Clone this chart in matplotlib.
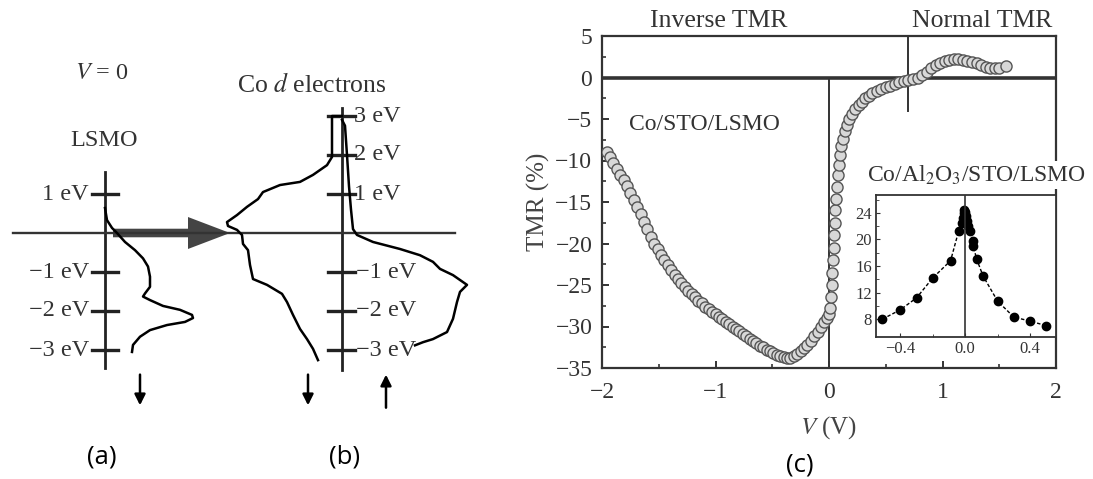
import numpy as np
import matplotlib
matplotlib.use('Agg')
import matplotlib.pyplot as plt
from matplotlib.patches import FancyArrow

plt.rcParams['font.family'] = ['Liberation Serif', 'DejaVu Serif']
plt.rcParams['mathtext.fontset'] = 'stix'

# ---- (a) LSMO density of states: (offset from axis, energy in eV)
lsmo_dos = [0, 2, 7, 12, 20, 30, 38, 43, 45, 45, 40, 38, 45, 58, 75, 87, 88, 80, 62, 45, 35, 28, 27]
lsmo_e = [0.64, 0.33, 0.13, 0.0, -0.23, -0.44, -0.65, -0.86, -1.12, -1.38, -1.55, -1.63, -1.72,
          -1.87, -1.97, -2.10, -2.18, -2.28, -2.36, -2.49, -2.66, -2.87, -3.05]

# ---- (b) Co d electrons, spin down (left of axis) and spin up (right of axis)
co_dn_dos = [0, 10, 10, 15, 29, 42, 62, 79, 84, 95, 105, 115, 114, 105, 100, 99, 94, 92, 89,
             75, 60, 55, 49, 42, 35, 29, 24]
co_dn_e = [3.0, 3.0, 1.95, 1.74, 1.49, 1.31, 1.23, 1.05, 0.87, 0.67, 0.46, 0.28, 0.18, 0.08,
           -0.05, -0.28, -0.44, -0.82, -1.18, -1.33, -1.56, -1.77, -2.10, -2.46, -2.72, -2.97, -3.26]
co_up_dos = [0, 3, 5, 7, 9, 11, 15, 31, 58, 78, 91, 98, 111, 125, 118, 115, 111, 105, 91, 81, 73]
co_up_e = [2.9, 2.75, 2.0, 1.2, 0.6, 0.1, -0.05, -0.23, -0.41, -0.57, -0.74, -0.92, -1.08,
           -1.33, -1.51, -1.77, -2.20, -2.54, -2.72, -2.80, -2.88]

# ---- (c) TMR vs bias, Co/STO/LSMO
v_main = [-1.96, -1.93, -1.90, -1.87, -1.84, -1.81, -1.78, -1.75, -1.72, -1.69, -1.66, -1.63,
          -1.60, -1.57, -1.54, -1.51, -1.48, -1.45, -1.42, -1.39, -1.36, -1.33, -1.30, -1.27,
          -1.24, -1.21, -1.18, -1.15, -1.12, -1.09, -1.06, -1.03, -1.00, -0.97, -0.94, -0.91,
          -0.88, -0.85, -0.82, -0.79, -0.76, -0.73, -0.70, -0.67, -0.64, -0.61, -0.58, -0.55,
          -0.52, -0.49, -0.46, -0.43, -0.40, -0.37, -0.34, -0.31, -0.28, -0.25, -0.22, -0.19,
          -0.16, -0.13, -0.10, -0.07, -0.04, -0.02, 0.0,
          0.01, 0.02, 0.025, 0.03, 0.035, 0.04, 0.045, 0.05, 0.055, 0.06, 0.07, 0.08, 0.09,
          0.10, 0.11, 0.12, 0.14, 0.16, 0.18, 0.20, 0.23, 0.26, 0.29, 0.32, 0.35, 0.38, 0.42,
          0.46, 0.50, 0.54, 0.58, 0.62, 0.66, 0.70, 0.74, 0.78, 0.82, 0.86, 0.90, 0.94, 0.98,
          1.02, 1.06, 1.10, 1.14, 1.18, 1.22, 1.26, 1.30, 1.34, 1.38, 1.42, 1.46, 1.50, 1.56]
tmr_main = [-9.0, -9.6, -10.3, -11.0, -11.7, -12.4, -13.1, -13.9, -14.7, -15.6, -16.5, -17.4,
            -18.3, -19.2, -20.0, -20.7, -21.4, -22.0, -22.6, -23.2, -23.8, -24.3, -24.8, -25.3,
            -25.7, -26.1, -26.5, -26.9, -27.2, -27.6, -27.9, -28.2, -28.5, -28.8, -29.1, -29.4,
            -29.7, -30.0, -30.3, -30.6, -30.9, -31.2, -31.5, -31.8, -32.0, -32.3, -32.5, -32.8,
            -33.0, -33.2, -33.4, -33.6, -33.7, -33.8, -33.8, -33.6, -33.3, -33.0, -32.6, -32.2,
            -31.7, -31.2, -30.7, -30.1, -29.5, -29.0, -28.5,
            -27.8, -26.5, -25.0, -23.5, -22.0, -20.5, -19.0, -17.5, -16.0, -14.6, -13.2, -11.8,
            -10.5, -9.3, -8.3, -7.4, -6.5, -5.7, -5.0, -4.4, -3.8, -3.3, -2.9, -2.5, -2.2, -1.9,
            -1.6, -1.4, -1.2, -1.0, -0.8, -0.6, -0.45, -0.3, -0.15, 0.0, 0.3, 0.7, 1.1, 1.5, 1.8,
            2.0, 2.1, 2.2, 2.2, 2.1, 2.0, 1.9, 1.7, 1.5, 1.3, 1.1, 1.1, 1.2, 1.4]

# ---- inset: Co/Al2O3/STO/LSMO
v_ins = [-0.51, -0.40, -0.30, -0.20, -0.09, -0.04, -0.02, -0.015, -0.01, -0.005, 0.0, 0.005,
         0.01, 0.02, 0.03, 0.05, 0.05, 0.07, 0.11, 0.20, 0.30, 0.40, 0.50]
tmr_ins = [8.0, 9.4, 11.2, 14.2, 16.8, 21.3, 22.5, 23.2, 24.0, 24.5, 24.2, 23.5,
           22.8, 22.0, 21.3, 19.7, 19.0, 17.1, 14.5, 10.7, 8.3, 7.7, 7.0]

W, H = 1093, 479
fig = plt.figure(figsize=(W / 100, H / 100), dpi=100)
txt = '#333333'

# ================= panels (a) and (b): schematic, x in pixels, y in eV
ax_ab = fig.add_axes([0, 0, 480 / W, 1])
ax_ab.set_xlim(0, 480)
ax_ab.set_ylim(-246 / 39, (H - 246) / 39)
ax_ab.axis('off')

x_lsmo, x_co = 105, 342
ax_ab.plot([x_lsmo, x_lsmo], [-3.45, 1.56], color='#222', lw=2.0)
ax_ab.plot([x_co, x_co], [-3.5, 3.2], color='#222', lw=2.0)
ax_ab.plot([13, 455], [0, 0], color='#333', lw=1.7)

for e in [1, -1, -2, -3]:
    ax_ab.plot([x_lsmo - 13, x_lsmo + 13], [e, e], color='#222', lw=2.4)
    lab = ('%d eV' % e).replace('-', '\u2212')
    ax_ab.text(x_lsmo - 16, e, lab, ha='right', va='center', fontsize=17.5, color=txt)
for e in [3, 2, 1, -1, -2, -3]:
    ax_ab.plot([x_co - 14, x_co + 13], [e, e], color='#222', lw=2.4)
    lab = ('%d eV' % e).replace('-', '\u2212')
    ax_ab.text(x_co + 12 if e > 0 else x_co + 14, e, lab, ha='left', va='center',
               fontsize=17.5, color=txt)

ax_ab.plot(x_lsmo + np.array(lsmo_dos), lsmo_e, color='black', lw=1.8)
ax_ab.plot(x_co - np.array(co_dn_dos), co_dn_e, color='black', lw=1.8)
ax_ab.plot(x_co + np.array(co_up_dos), co_up_e, color='black', lw=1.8)

ax_ab.add_patch(FancyArrow(113, 0, 117, 0, width=0.22, head_width=0.82, head_length=42,
                           length_includes_head=True, color='#444', lw=0))

ax_ab.text(102, 4.10, '$V$ = 0', ha='center', va='center', fontsize=17.5, color=txt)
ax_ab.text(104, 2.38, 'LSMO', ha='center', va='center', fontsize=17.5, color=txt)
ax_ab.text(312, 3.79, 'Co $d$ electrons', ha='center', va='center', fontsize=18.5, color=txt)

for xa in [140, 308]:
    ax_ab.annotate('', xy=(xa, -4.49), xytext=(xa, -3.56),
                   arrowprops=dict(arrowstyle='-|>', color='black', lw=1.8, mutation_scale=16))
ax_ab.annotate('', xy=(386, -3.56), xytext=(386, -4.55),
               arrowprops=dict(arrowstyle='-|>', color='black', lw=1.8, mutation_scale=16))

for xa, lab in [(102, '(a)'), (345, '(b)')]:
    ax_ab.text(xa, -5.74, lab, ha='center', va='center', fontsize=18.5, family='Open Sans')

# ================= panel (c): main TMR plot
ax = fig.add_axes([602 / W, 1 - 368 / H, 454 / W, 332 / H])
ax.set_xlim(-2, 2)
ax.set_ylim(-35, 5)
ax.plot(v_main, tmr_main, 'o', ms=8, mfc='#d8d8d8', mec='#555', mew=1.0, zorder=3)
ax.axhline(0, color='#333', lw=2.6, zorder=2)
ax.plot([0, 0], [-35, 0], color='#333', lw=1.4, zorder=2)
ax.plot([0.7, 0.7], [5, -4], color='#333', lw=1.4, zorder=2)

for s in ax.spines.values():
    s.set_linewidth(1.6)
    s.set_color('#333')
ax.set_xticks([-2, -1, 0, 1, 2])
ax.set_xticks([-1.5, -0.5, 0.5, 1.5], minor=True)
ax.set_yticks(np.arange(-35, 6, 5))
ax.set_yticks(np.arange(-32.5, 5, 5), minor=True)
ax.tick_params(which='both', direction='in', colors='#333', labelsize=17)
ax.tick_params(which='major', length=5, width=1.4)
ax.tick_params(which='minor', length=3, width=1.2)
ax.tick_params(axis='y', pad=7)
ax.tick_params(axis='x', pad=10)
ax.set_xticklabels(['\u22122', '\u22121', '0', '1', '2'])
ax.set_yticklabels([('%d' % t).replace('-', '\u2212') for t in np.arange(-35, 6, 5)])
ax.set_xlabel('$V$ (V)', fontsize=18, color='#444', labelpad=8)
ax.set_ylabel('TMR (%)', fontsize=18, color='#444', labelpad=4)

ax.text(-0.97, 6.8, 'Inverse TMR', ha='center', va='center', fontsize=18.5, color=txt)
ax.text(1.35, 6.8, 'Normal TMR', ha='center', va='center', fontsize=18.5, color=txt)
ax.text(-1.1, -5.7, 'Co/STO/LSMO', ha='center', va='center', fontsize=17, color=txt)

fig.text(976 / W, 1 - 175 / H, 'Co/Al$_2$O$_3$/STO/LSMO', ha='center', va='center',
         fontsize=17, color=txt,
         bbox=dict(facecolor='white', edgecolor='none', pad=2))
fig.text(800 / W, 1 - 465 / H, '(c)', ha='center', va='center', fontsize=18.5, family='Open Sans')

# ================= inset
axi = fig.add_axes([876 / W, 1 - 337 / H, 180 / W, 142 / H])
axi.set_xlim(-0.55, 0.56)
axi.set_ylim(5.3, 26.7)
axi.plot(v_ins, tmr_ins, 'o--', color='black', ms=6, lw=1.0, dashes=(2.5, 1.5))
axi.axvline(0, color='#333', lw=1.2)
for s in axi.spines.values():
    s.set_linewidth(1.3)
    s.set_color('#333')
axi.set_xticks([-0.4, 0.0, 0.4])
axi.set_xticks([-0.2, 0.2], minor=True)
axi.set_yticks([8, 12, 16, 20, 24])
axi.set_yticks([10, 14, 18, 22, 26], minor=True)
axi.set_xticklabels(['\u22120.4', '0.0', '0.4'])
axi.tick_params(which='both', direction='in', labelsize=12, colors='#333', pad=3)
axi.tick_params(which='major', length=3)
axi.tick_params(which='minor', length=2)

fig.savefig('out.png', dpi=100)
